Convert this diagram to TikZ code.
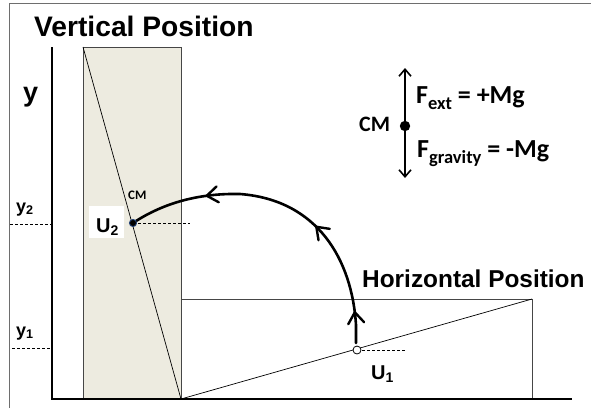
\documentclass[tikz,border=0pt]{standalone}
\usepackage{fontspec}
\setmainfont{Liberation Sans}
\newfontfamily\calib{Carlito}
\usetikzlibrary{arrows.meta,decorations.markings}
\definecolor{beige}{RGB}{237,235,224}
\definecolor{framegray}{RGB}{110,110,110}
\definecolor{boxgray}{RGB}{70,70,70}
\definecolor{dotblue}{RGB}{40,70,120}
\newcommand{\csub}[1]{\raisebox{-6.5pt}{\fontsize{18.5}{18.5}\selectfont #1}}
\begin{document}
\begin{tikzpicture}[x=1pt,y=-1pt,
  thinline/.style={line width=0.7pt},
  dashln/.style={dash pattern=on 3pt off 2pt, line width=0.8pt},
  boxln/.style={draw=boxgray, line width=1pt},
  title/.style={font=\bfseries\fontsize{28.2}{30}\selectfont, inner sep=0pt, anchor=base west},
  htitle/.style={font=\bfseries\fontsize{24.4}{26}\selectfont, inner sep=0pt, anchor=base west},
  lab/.style={font=\bfseries\fontsize{18}{20}\selectfont, inner sep=0pt, anchor=base west},
  ulab/.style={font=\bfseries\fontsize{20}{22}\selectfont, inner sep=0pt, anchor=base west},
  clab/.style={font=\calib\bfseries\fontsize{26}{28}\selectfont, inner sep=0pt, anchor=base west},
  barb/.style={-{Straight Barb[length=7pt,width=12pt]}},
  vmark/.style={decoration={markings,
     mark=at position #1 with {\draw[line width=2.4pt, line cap=round, line join=round] (-11pt,8pt) -- (0,0) -- (-11pt,-8pt);}},
     postaction={decorate}}
]
\useasboundingbox (0,0) rectangle (591,408);
% frame
\draw[framegray, line width=0.9pt] (9,408) -- (9,3) -- (591,3);
% vertical block
\path[fill=beige, boxln] (83,47) rectangle (181,399);
\draw[thinline] (83,47) -- (181,399);
% horizontal block
\draw[boxln] (181,299) rectangle (532,399);
\draw[thinline] (181,399) -- (532,299);
% axes
\draw[line width=1.2pt] (52,47) -- (52,399) -- (572,399);
% dashed levels
\coordinate (y2a) at (10,224);
\coordinate (y2b) at (52,224);
\coordinate (y1a) at (12,348);
\coordinate (y1b) at (52,348);
\draw[dashln] (y2a) -- (y2b);
\draw[dashln] (y1a) -- (y1b);
% points
\coordinate (U2) at (133,223);
\coordinate (U1) at (357,350);
\coordinate (U2e) at (190,223);
\coordinate (U1e) at (405,350);
\draw[dashln] (U2) -- (U2e);
\draw[dashln] (U1) -- (U1e);
% labels
\node[title] (vt) at (34,36) {Vertical Position};
\node[htitle] (ht) at (362,287) {Horizontal Position};
\node[font=\bfseries\fontsize{27}{30}\selectfont, inner sep=0pt, anchor=base west] (ylab) at (23,101) {y};
\node[lab] (y2l) at (16,212) {y\textsubscript{2}};
\node[lab] (y1l) at (16,336) {y\textsubscript{1}};
\node[fill=white, inner sep=0pt, minimum width=35pt, minimum height=32pt] (u2box) at (106.5,222) {};
\node[ulab] (u2l) at (96,232) {U\textsubscript{2}};
\node[ulab] (u1l) at (371,379) {U\textsubscript{1}};
\node[font=\calib\bfseries\fontsize{13}{15}\selectfont, inner sep=0pt, anchor=base west] (cm2) at (128,199) {CM};
% arc
\coordinate (S) at (356,343);
\draw[line width=2.6pt, line cap=round] (S) -- (356,325) .. controls (352,260) and (318,200) .. (240,194) .. controls (195,193) and (160,205) .. (U2);
\path[vmark=0.095] (S) -- (356,325) .. controls (352,260) and (318,200) .. (240,194) .. controls (195,193) and (160,205) .. (U2);
\path[vmark=0.39] (S) -- (356,325) .. controls (352,260) and (318,200) .. (240,194) .. controls (195,193) and (160,205) .. (U2);
\path[vmark=0.755] (S) -- (356,325) .. controls (352,260) and (318,200) .. (240,194) .. controls (195,193) and (160,205) .. (U2);
\fill[black, draw=dotblue, line width=0.9pt] (U2) circle (3.6pt);
\draw[fill=white, line width=0.8pt] (U1) circle (4pt);
% force diagram
\coordinate (CMp) at (405,126);
\coordinate (Ft) at (405,68);
\coordinate (Fb) at (405,178);
\draw[line width=1.6pt, barb] (CMp) -- (Ft);
\draw[line width=1.6pt, barb] (CMp) -- (Fb);
\fill (CMp) circle (5.2pt);
\node[font=\calib\bfseries\fontsize{22}{24}\selectfont, inner sep=0pt, anchor=base west] (cm1) at (359,131) {CM};
\node[clab] (fext) at (416,103) {F\csub{ext} = +Mg};
\node[clab] (fgr) at (417,157) {F\csub{gravity} = -Mg};
\end{tikzpicture}
\end{document}
